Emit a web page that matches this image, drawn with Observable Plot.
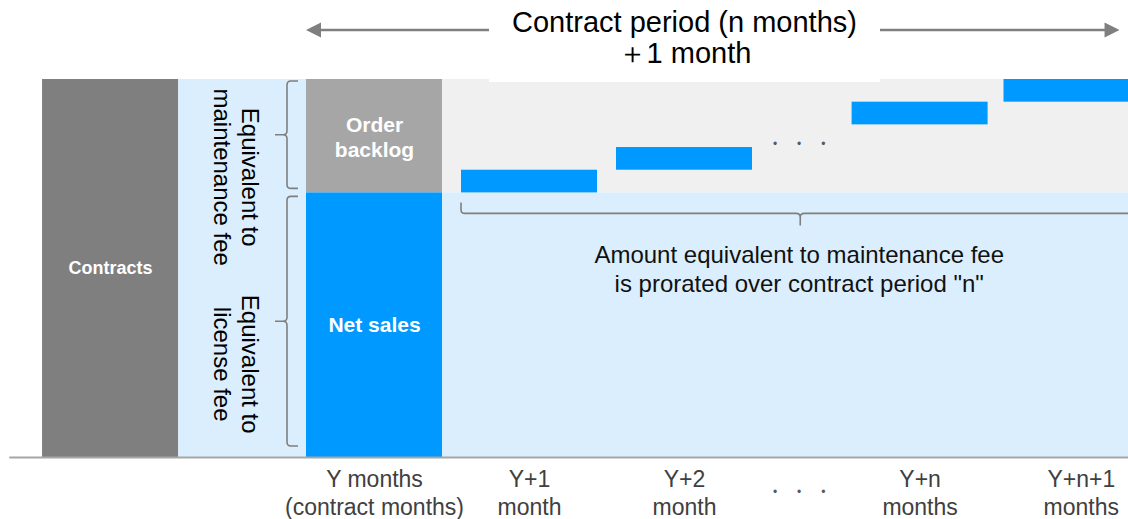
<!DOCTYPE html>
<html><head><meta charset="utf-8">
<script src="https://cdn.jsdelivr.net/npm/d3@7"></script>
<script src="https://cdn.jsdelivr.net/npm/@observablehq/plot@0.6"></script>
<style>
html,body{margin:0;padding:0;background:#fff;}
#chart svg{display:block;}
</style></head><body><div id="chart"></div>
<script>
// ---------------- data ----------------
const periodLabels = ["Y months\n(contract months)", "Y+1\nmonth", "Y+2\nmonth", "Y+n\nmonths", "Y+n+1\nmonths"];
const periodSlots = [0, 1, 2, 3.52, 4.5];        // month slot on the timeline
const labelSlots = [0, 1, 2, 3.52, 4.56];         // where each period label sits
const ellipsisSlot = 2.74;                        // the elided months "・・・"
const contractTotal = 100;                        // whole contract amount
const netSalesAmount = 70;                        // equivalent to license fee
const orderBacklogAmount = 30;                    // equivalent to maintenance fee
const monthlyStart = [70, 76, 88, 94];            // cumulative amount at start of Y+1, Y+2, Y+n, Y+n+1
const monthlyAmount = 6;                          // maintenance fee prorated per month
const contractsSlot = -1.703;                     // "Contracts" column
const titleText = "Contract period (n months)\n＋1 month";
const noteText = "Amount equivalent to maintenance fee\nis prorated over contract period \"n\"";
const titleSlot = 2.0;
const arrowEndSlot = 4.81;

// ---------------- derived tables ----------------
const half = 0.4387;                              // half column width (in slots)
const rightEdge = periodSlots[periodSlots.length - 1] + half;
const months = periodSlots.slice(1).map((s, i) => ({slot: s, start: monthlyStart[i], end: monthlyStart[i] + monthlyAmount}));
const labels = periodLabels.map((t, i) => ({text: t, slot: labelSlots[i]}));
const one = [0];

const FONT = "'Liberation Sans', Arial, Helvetica, sans-serif";
const GREY = "#7f7f7f";

// arrows (drawn with the plot's scales)
function arrows(index, scales) {
  const x = scales.x, y = scales.y;
  const yy = y(contractTotal) - 49;
  const xl = x(periodSlots[0] - half), xr = x(arrowEndSlot);
  const g = d3.create("svg:g");
  g.append("line").attr("x1", xl + 10).attr("x2", xr - 10).attr("y1", yy).attr("y2", yy)
    .attr("stroke", GREY).attr("stroke-width", 2.5);
  g.append("path").attr("fill", GREY)
    .attr("d", `M${xl},${yy}L${xl + 15},${yy - 7.5}L${xl + 15},${yy + 7.5}Z M${xr},${yy}L${xr - 15},${yy - 7.5}L${xr - 15},${yy + 7.5}Z`);
  return g.node();
}

// curly braces (drawn with the plot's scales)
function braces(index, scales) {
  const x = scales.x, y = scales.y;
  const r = 4;
  const g = d3.create("svg:g").attr("fill", "none").attr("stroke", GREY).attr("stroke-width", 1.6);
  const vBrace = (x0, xe, xt, yT, yB) => {
    const yM = (yT + yB) / 2;
    return `M${xe},${yT}L${x0 + r},${yT}Q${x0},${yT} ${x0},${yT + r}L${x0},${yM - r}Q${x0},${yM} ${x0 - r},${yM}L${xt},${yM}` +
           `M${x0 - r},${yM}Q${x0},${yM} ${x0},${yM + r}L${x0},${yB - r}Q${x0},${yB} ${x0 + r},${yB}L${xe},${yB}`;
  };
  const hBrace = (xL, xR, yb, ye, yt) => {
    const xM = (xL + xR) / 2;
    return `M${xL},${ye}L${xL},${yb - r}Q${xL},${yb} ${xL + r},${yb}L${xM - r},${yb}Q${xM},${yb} ${xM},${yb + r}L${xM},${yt}` +
           `M${xM},${yb + r}Q${xM},${yb} ${xM + r},${yb}L${xR - r},${yb}Q${xR},${yb} ${xR},${yb - r}L${xR},${ye}`;
  };
  const colL = x(periodSlots[0] - half);
  g.append("path").attr("d", vBrace(colL - 19, colL - 8, colL - 31, y(contractTotal) + 2, y(netSalesAmount) - 4));
  g.append("path").attr("d", vBrace(colL - 19, colL - 8, colL - 31, y(netSalesAmount) + 4, y(0) - 11));
  const yb = y(netSalesAmount) + 21;
  g.append("path").attr("d", hBrace(x(periodSlots[1] - half), x(rightEdge), yb, yb - 11, yb + 12));
  return g.node();
}

// white box behind the title
function titleBox(index, scales) {
  const x = scales.x, y = scales.y;
  const cx = x(titleSlot);
  return d3.create("svg:rect").attr("x", cx - 195).attr("y", 0).attr("width", 391)
    .attr("height", y(contractTotal) + 3).attr("fill", "#ffffff").node();
}

const chart = Plot.plot({
  width: 1128,
  height: 519,
  marginTop: 79, marginBottom: 62, marginLeft: 0, marginRight: 0,
  x: {type: "linear", domain: [0, 1], range: [374, 529], axis: null},
  y: {type: "linear", domain: [0, contractTotal], range: [457, 79], axis: null},
  style: {fontFamily: FONT, background: "#ffffff", color: "#000"},
  marks: [
    // background regions
    Plot.rect(one, {x1: half, x2: rightEdge, y1: netSalesAmount, y2: contractTotal, fill: "#f0f0f0"}),
    Plot.rect(one, {x1: half, x2: rightEdge, y1: 0, y2: netSalesAmount, fill: "#dbeefd"}),
    Plot.rect(one, {x1: contractsSlot + half, x2: periodSlots[0] - half, y1: 0, y2: contractTotal, fill: "#dbeefd"}),
    // contracts column
    Plot.rect(one, {x1: contractsSlot - half, x2: contractsSlot + half, y1: 0, y2: contractTotal, fill: "#7f7f7f"}),
    // Y month column: order backlog + net sales
    Plot.rect(one, {x1: periodSlots[0] - half, x2: periodSlots[0] + half, y1: netSalesAmount, y2: netSalesAmount + orderBacklogAmount, fill: "#a6a6a6"}),
    Plot.rect(one, {x1: periodSlots[0] - half, x2: periodSlots[0] + half, y1: 0, y2: netSalesAmount, fill: "#0099ff"}),
    arrows,
    titleBox,
    // monthly recognised maintenance fee
    Plot.rect(months, {x1: d => d.slot - half, x2: d => d.slot + half, y1: "start", y2: "end", fill: "#0099ff"}),
    braces,
    // baseline
    Plot.ruleY([0], {x1: contractsSlot - 0.65, x2: rightEdge, stroke: "#a6a6a6", strokeWidth: 2}),
    // texts
    Plot.text([titleText], {x: titleSlot, frameAnchor: "top", lineAnchor: "middle", dy: -41.5, text: d => d, fontSize: 29, lineHeight: 1.07, fill: "#000"}),
    Plot.text(["Contracts"], {x: contractsSlot, y: contractTotal / 2, text: d => d, fontSize: 18, fontWeight: "bold", fill: "#fff"}),
    Plot.text(["Order\nbacklog"], {x: periodSlots[0], y: netSalesAmount + orderBacklogAmount / 2, text: d => d, fontSize: 21, fontWeight: "bold", lineHeight: 1.2, fill: "#fff"}),
    Plot.text(["Net sales"], {x: periodSlots[0], y: netSalesAmount / 2, text: d => d, fontSize: 21, fontWeight: "bold", fill: "#fff"}),
    Plot.text(["Equivalent to\nmaintenance fee"], {x: (contractsSlot + half + periodSlots[0] - half) / 2, y: netSalesAmount + orderBacklogAmount / 2, dx: -5.5, dy: 41, rotate: 90, text: d => d, fontSize: 24, lineHeight: 1.15, fill: "#000"}),
    Plot.text(["Equivalent to\nlicense fee"], {x: (contractsSlot + half + periodSlots[0] - half) / 2, y: netSalesAmount / 2, dx: -5.5, dy: 39, rotate: 90, text: d => d, fontSize: 24, lineHeight: 1.15, fill: "#000"}),
    Plot.text(["•      •      •"], {x: ellipsisSlot, y: (monthlyStart[1] + monthlyAmount + monthlyStart[2]) / 2, dy: 8, text: d => d, fontSize: 12, fill: "#595959"}),
    Plot.text([noteText], {x: ellipsisSlot, y: contractTotal / 2, text: d => d, fontSize: 24, lineHeight: 1.2, fill: "#111"}),
    // period labels under the baseline
    Plot.text(labels, {x: "slot", frameAnchor: "bottom", lineAnchor: "top", dy: 10, text: "text", fontSize: 23, lineHeight: 1.2, fill: "#404040"}),
    Plot.text(["•      •      •"], {x: ellipsisSlot, frameAnchor: "bottom", lineAnchor: "middle", dy: 35, text: d => d, fontSize: 12, fill: "#595959"})
  ]
});
document.getElementById("chart").appendChild(chart);
</script>
</body></html>
